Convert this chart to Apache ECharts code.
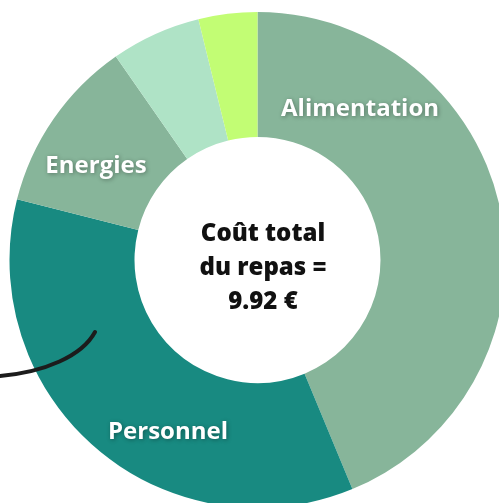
<!DOCTYPE html>
<html>
<head>
<meta charset="utf-8">
<script src="https://cdn.jsdelivr.net/npm/echarts@6/dist/echarts.min.js"></script>
<style>
  html, body { margin: 0; padding: 0; background: #fff; }
  #container { width: 499px; height: 503px; }
</style>
</head>
<body>
<div id="container"></div>
<script>
const container = document.getElementById('container');
const chartIns = echarts.init(container);

// coût par poste (€), total = 9.92
const categories = ['Alimentation', 'Personnel', 'Energies', 'Autres', 'Divers'];
const values = [4.34, 3.49, 1.13, 0.58, 0.38];
const colors = ['#87b59a', '#188a81', '#87b59a', '#afe3c6', '#c2fd74'];
const showLabel = [true, true, true, false, false];
// position des étiquettes (px)
const labelPos = [[360, 109], [168, 432], [96, 166], [0, 0], [0, 0]];

const total = values.reduce((a, b) => a + b, 0);

const data = categories.map((name, i) => ({
  name: name,
  value: values[i],
  itemStyle: { color: colors[i] },
  label: { show: showLabel[i] }
}));

const option = {
  animation: false,
  title: {
    text: 'Coût total\ndu repas =\n' + total.toFixed(2) + ' €',
    left: 258,
    top: 263,
    textAlign: 'center',
    textVerticalAlign: 'middle',
    textStyle: {
      fontFamily: 'Open Sans',
      fontWeight: 800,
      fontSize: 24,
      lineHeight: 34,
      color: '#111'
    }
  },
  series: [{
    type: 'pie',
    center: [257.5, 260],
    radius: [123, 248],
    startAngle: 90,
    clockwise: true,
    avoidLabelOverlap: false,
    emphasis: { disabled: true },
    label: {
      show: true,
      position: 'inside',
      formatter: '{b}',
      fontFamily: 'Open Sans',
      fontWeight: 'bold',
      fontSize: 24,
      color: '#fff',
      textShadowColor: 'rgba(0,0,0,0.35)',
      textShadowBlur: 4,
      textShadowOffsetX: 1,
      textShadowOffsetY: 1
    },
    labelLine: { show: false },
    labelLayout: (params) => ({
      x: labelPos[params.dataIndex][0],
      y: labelPos[params.dataIndex][1],
      align: 'center',
      verticalAlign: 'middle'
    }),
    data: data
  }],
  graphic: [{
    type: 'bezierCurve',
    shape: { x1: 0, y1: 376, cpx1: 45, cpy1: 372, cpx2: 82, cpy2: 356, x2: 95, y2: 332 },
    style: { stroke: '#1c1c1c', lineWidth: 4, fill: null, lineCap: 'round' },
    z: 100
  }]
};

chartIns.setOption(option);
</script>
</body>
</html>
